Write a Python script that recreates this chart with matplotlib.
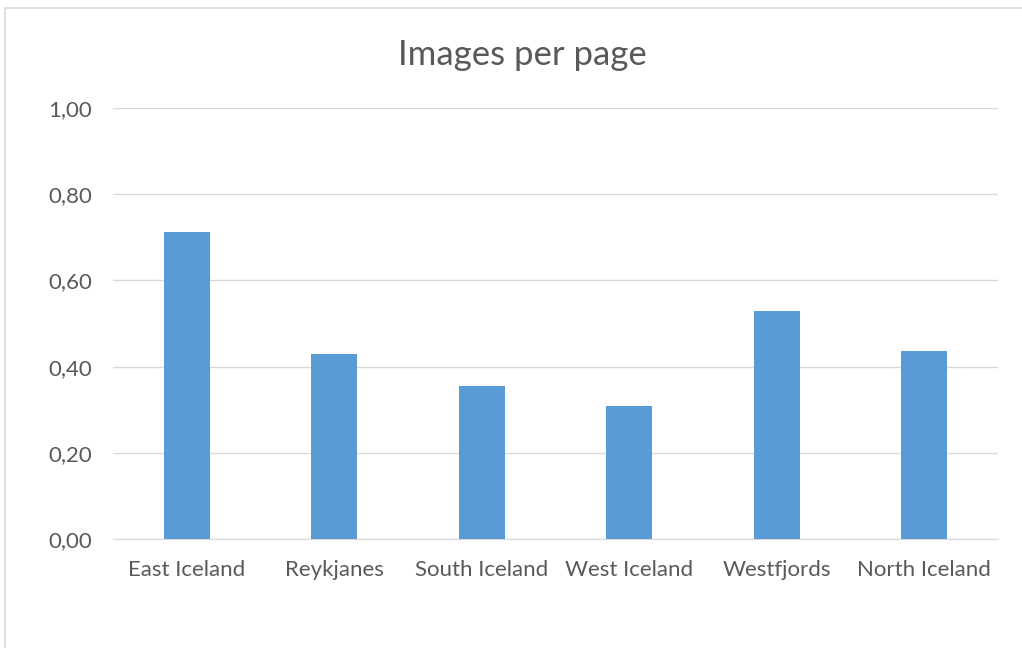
import matplotlib
matplotlib.use("Agg")
import matplotlib.pyplot as plt
from matplotlib.patches import Rectangle

regions = ["East Iceland", "Reykjanes", "South Iceland", "West Iceland", "Westfjords", "North Iceland"]
images_per_page = [0.712, 0.430, 0.356, 0.308, 0.530, 0.437]
y_ticks = [0.0, 0.2, 0.4, 0.6, 0.8, 1.0]
y_tick_labels = ["0,00", "0,20", "0,40", "0,60", "0,80", "1,00"]

W, H = 1022, 648
plt.rcParams["font.family"] = ["Lato", "DejaVu Sans"]
text_color = "#595959"

fig = plt.figure(figsize=(W / 100, H / 100), dpi=100)
fig.patch.set_facecolor("white")

# chart area border
fig.patches.append(Rectangle((5 / W, -0.1), 1.2, 1 - 8 / H + 0.1, transform=fig.transFigure,
                             facecolor="none", edgecolor="#D9D9D9", linewidth=1.2))

ax = fig.add_axes([113 / W, (H - 539) / H, (998 - 113) / W, 431 / H])
x = range(len(regions))
ax.bar(x, images_per_page, width=0.31, color="#5B9BD5", zorder=3)
ax.set_xlim(-0.5, len(regions) - 0.5)
ax.set_ylim(0, 1.0)
ax.set_yticks(y_ticks)
ax.set_yticklabels(y_tick_labels)
ax.set_xticks(list(x))
ax.set_xticklabels(regions)
ax.grid(axis="y", color="#D9D9D9", linewidth=1.0, zorder=0)
for s in ["top", "right", "left"]:
    ax.spines[s].set_visible(False)
ax.spines["bottom"].set_color("#D9D9D9")
ax.tick_params(axis="both", length=0, colors=text_color, labelsize=16)
ax.tick_params(axis="x", pad=15)
ax.tick_params(axis="y", pad=15)

fig.text(0.511, 1 - 55 / H, "Images per page", ha="center", va="center",
         fontsize=25, color=text_color)

fig.savefig("out.png", dpi=100, facecolor="white")
